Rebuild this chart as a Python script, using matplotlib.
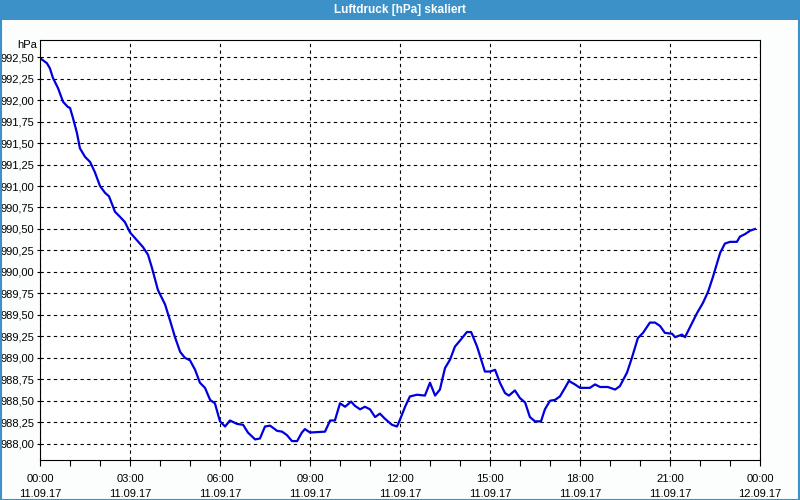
import matplotlib
matplotlib.use('Agg')
import matplotlib.pyplot as plt
from matplotlib.patches import Rectangle
from matplotlib.ticker import MultipleLocator, FuncFormatter

# Stunden seit 11.09.17 00:00
hours = [0.00, 0.23, 0.33, 0.43, 0.60, 0.77, 0.93, 1.00, 1.10, 1.23,
         1.33, 1.50, 1.67, 1.83, 2.00, 2.17, 2.30, 2.50, 2.67, 2.83,
         3.00, 3.23, 3.43, 3.60, 3.73, 3.93, 4.17, 4.33, 4.50, 4.67,
         4.83, 5.00, 5.17, 5.33, 5.50, 5.67, 5.83, 6.00, 6.17, 6.33,
         6.57, 6.77, 6.93, 7.17, 7.33, 7.50, 7.67, 7.90, 8.07, 8.23,
         8.40, 8.57, 8.73, 8.83, 9.00, 9.50, 9.67, 9.83, 10.00, 10.17,
         10.37, 10.50, 10.67, 10.83, 11.00, 11.17, 11.33, 11.50, 11.73, 11.90,
         12.00, 12.17, 12.33, 12.57, 12.83, 13.00, 13.17, 13.33, 13.50, 13.67,
         13.83, 14.00, 14.23, 14.37, 14.57, 14.73, 14.83, 15.00, 15.17, 15.33,
         15.50, 15.63, 15.83, 16.00, 16.17, 16.33, 16.50, 16.70, 16.83, 17.00,
         17.17, 17.33, 17.50, 17.63, 17.83, 18.00, 18.33, 18.50, 18.67, 18.93,
         19.17, 19.33, 19.57, 19.73, 19.93, 20.10, 20.33, 20.50, 20.67, 20.83,
         21.07, 21.17, 21.40, 21.50, 21.67, 21.90, 22.10, 22.27, 22.43, 22.67,
         22.83, 23.00, 23.23, 23.33, 23.50, 23.67, 23.83]

pressure = [992.49, 992.43, 992.37, 992.26, 992.14, 991.98, 991.92, 991.91, 991.79, 991.62,
            991.44, 991.34, 991.28, 991.16, 991.00, 990.92, 990.88, 990.70, 990.64, 990.58,
            990.46, 990.37, 990.29, 990.20, 990.05, 989.79, 989.62, 989.44, 989.24, 989.07,
            989.00, 988.97, 988.86, 988.71, 988.65, 988.51, 988.47, 988.26, 988.20, 988.27,
            988.23, 988.22, 988.13, 988.05, 988.06, 988.20, 988.21, 988.15, 988.14, 988.10,
            988.03, 988.03, 988.13, 988.17, 988.13, 988.14, 988.27, 988.27, 988.47, 988.43,
            988.49, 988.44, 988.40, 988.43, 988.40, 988.31, 988.35, 988.29, 988.22, 988.20,
            988.28, 988.43, 988.55, 988.57, 988.56, 988.71, 988.56, 988.63, 988.88, 988.98,
            989.13, 989.20, 989.30, 989.30, 989.13, 988.95, 988.84, 988.84, 988.86, 988.71,
            988.59, 988.56, 988.62, 988.53, 988.48, 988.31, 988.26, 988.26, 988.40, 988.50,
            988.51, 988.55, 988.65, 988.73, 988.69, 988.65, 988.65, 988.69, 988.66, 988.66,
            988.63, 988.67, 988.83, 989.00, 989.23, 989.29, 989.41, 989.41, 989.37, 989.29,
            989.28, 989.24, 989.27, 989.24, 989.36, 989.52, 989.64, 989.77, 989.94, 990.22,
            990.33, 990.35, 990.35, 990.41, 990.44, 990.48, 990.50]

tick_hours = [0, 3, 6, 9, 12, 15, 18, 21, 24]
tick_labels = ['00:00\n11.09.17', '03:00\n11.09.17', '06:00\n11.09.17',
               '09:00\n11.09.17', '12:00\n11.09.17', '15:00\n11.09.17',
               '18:00\n11.09.17', '21:00\n11.09.17', '00:00\n12.09.17']

plt.rcParams['font.family'] = ['Liberation Sans', 'DejaVu Sans']

fig = plt.figure(figsize=(8, 5), dpi=100, facecolor='#fbfefd')

# Titelleiste
fig.patches.append(Rectangle((0, 0.96), 1, 0.04, transform=fig.transFigure,
                             facecolor='#3c91c8', edgecolor='none'))
fig.patches.append(Rectangle((0.001, 0.001), 0.998, 0.998, transform=fig.transFigure,
                             facecolor='none', edgecolor='#3c91c8', linewidth=1.5))
fig.text(0.5, 0.98, 'Luftdruck [hPa] skaliert', color='white', fontweight='bold',
         fontsize=8.5, ha='center', va='center')

ax = fig.add_axes([0.05, 0.08, 0.9, 0.84])
ax.set_facecolor('white')
ax.plot(hours, pressure, color='#0000dd', linewidth=1.6)

ax.set_xlim(0, 24)
ax.set_ylim(987.81, 992.70)
ax.set_xticks(tick_hours)
ax.set_xticklabels(tick_labels, fontsize=8, linespacing=1.6)
ax.xaxis.set_minor_locator(MultipleLocator(1))
ax.yaxis.set_major_locator(MultipleLocator(0.25))
ax.yaxis.set_major_formatter(FuncFormatter(lambda v, p: f'{v:.2f}'.replace('.', ',')))
ax.tick_params(axis='x', which='both', length=4, width=0.8, direction='out', pad=6)
ax.tick_params(axis='y', length=2, width=0.8, pad=2, labelsize=8)

ax.grid(True, which='major', color='black', linestyle=(0, (3, 3)), linewidth=0.8)
for s in ax.spines.values():
    s.set_linewidth(0.8)
    s.set_color('black')

ax.text(-0.004, 1.0, 'hPa', transform=ax.transAxes, ha='right', va='top', fontsize=8)

plt.savefig('out.png', dpi=100, facecolor=fig.get_facecolor())
plt.close()
